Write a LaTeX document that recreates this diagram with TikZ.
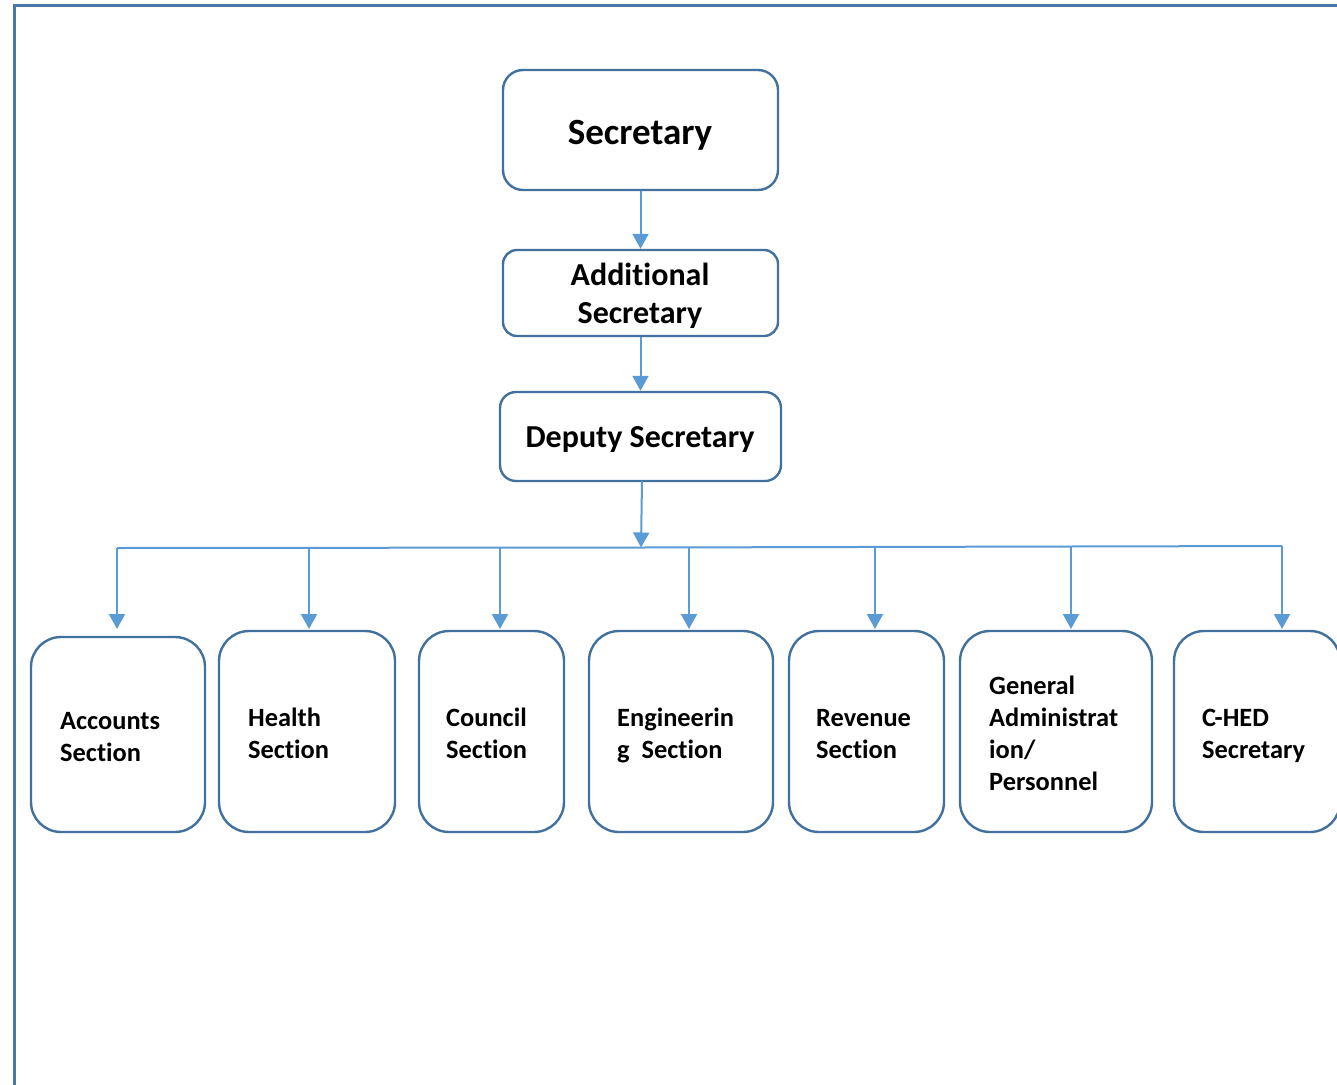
\documentclass[tikz,border=0pt]{standalone}
\usepackage{fontspec}
\setmainfont{Carlito}[Ligatures=NoCommon]
\usetikzlibrary{arrows.meta}
\definecolor{boxline}{HTML}{41719C}
\definecolor{linkline}{HTML}{5B9BD5}
\definecolor{frameline}{HTML}{4A76A8}
\begin{document}
\begin{tikzpicture}[x=1pt,y=-1pt,
  orgbox/.style={draw=boxline,line width=2.4pt,rounded corners=20pt,fill=white,inner sep=0pt},
  unitbox/.style={orgbox,rounded corners=30pt},
  link/.style={draw=linkline,line width=2pt,-{Triangle[width=16pt,length=15pt]}},
  bus/.style={draw=linkline,line width=2pt},
  toptext/.style={font=\bfseries\fontsize{37}{42}\selectfont},
  midtext/.style={font=\bfseries\fontsize{32}{38}\selectfont,align=center},
  unittext/.style={font=\bfseries\fontsize{26.4}{32}\selectfont,align=left,anchor=base west,inner sep=0pt}]
\useasboundingbox (0,0) rectangle (1337,1084);
\clip (0,0) rectangle (1337,1084);
% outer frame (left and top edges)
\draw[frameline,line width=3pt] (14,1090) -- (14,5) -- (1345,5);

% upper chain of command
\node[orgbox,minimum width=275pt,minimum height=120pt] (sec) at (640.5,130) {};
\node[toptext] (sect) at (640,135) {Secretary};
\node[orgbox,minimum width=275pt,minimum height=86pt,rounded corners=14pt] (add) at (640.5,293) {};
\node[midtext] (addt) at (640,296) {Additional\\Secretary};
\node[orgbox,minimum width=281pt,minimum height=89pt,rounded corners=16pt] (dep) at (640.5,436.5) {};
\node[font=\bfseries\fontsize{32}{38}\selectfont] (dept) at (640,440) {Deputy Secretary};

\draw[link] (sec.south) -- (add.north);
\draw[link] (add.south) -- (dep.north);

% distribution bus
\coordinate (busL) at (117,548);
\coordinate (busM) at (641,547.5);
\coordinate (busR) at (1282,546);
\draw[link] (642,481) -- (busM);
\draw[bus] (busL) -- (busM) -- (busR);

% sections
\node[unitbox,minimum width=174pt,minimum height=195pt] (acc) at (118,734.5) {};
\node[unitbox,minimum width=176pt,minimum height=201pt] (hea) at (307,731.5) {};
\node[unitbox,minimum width=145pt,minimum height=201pt] (cou) at (491.5,731.5) {};
\node[unitbox,minimum width=184pt,minimum height=201pt] (eng) at (681,731.5) {};
\node[unitbox,minimum width=155pt,minimum height=201pt] (rev) at (866.5,731.5) {};
\node[unitbox,minimum width=192pt,minimum height=201pt] (gen) at (1056,731.5) {};
\node[unitbox,minimum width=166pt,minimum height=201pt] (ched) at (1257,731.5) {};

% section names (anchored at the baseline of their last line)
\node[unittext] (acct) at (60,761) {Accounts\\Section};
\node[unittext] (heat) at (248,758) {Health\\Section};
\node[unittext] (cout) at (446,758) {Council\\Section};
\node[unittext] (engt) at (617,758) {Engineerin\\g\ \ Section};
\node[unittext] (revt) at (816,758) {Revenue\\Section};
\node[unittext] (gent) at (989,790) {General\\Administrat\\ion/\\Personnel};
\node[unittext] (chedt) at (1202,758) {C-HED\\Secretary};

% drops from the bus to each section
\coordinate (dA) at (117,548);
\coordinate (dH) at (309,547.8);
\coordinate (dC) at (500,547.6);
\coordinate (dE) at (689,547.4);
\coordinate (dR) at (875,547);
\coordinate (dG) at (1071,546.5);
\coordinate (dS) at (1282,546);
\coordinate (eA) at (117,629);
\coordinate (eH) at (309,629);
\coordinate (eC) at (500,629);
\coordinate (eE) at (689,629);
\coordinate (eR) at (875,629);
\coordinate (eG) at (1071,629);
\coordinate (eS) at (1282,629);
\foreach \s/\e in {dA/eA,dH/eH,dC/eC,dE/eE,dR/eR,dG/eG,dS/eS}
  \draw[link] (\s) -- (\e);
\end{tikzpicture}
\end{document}
